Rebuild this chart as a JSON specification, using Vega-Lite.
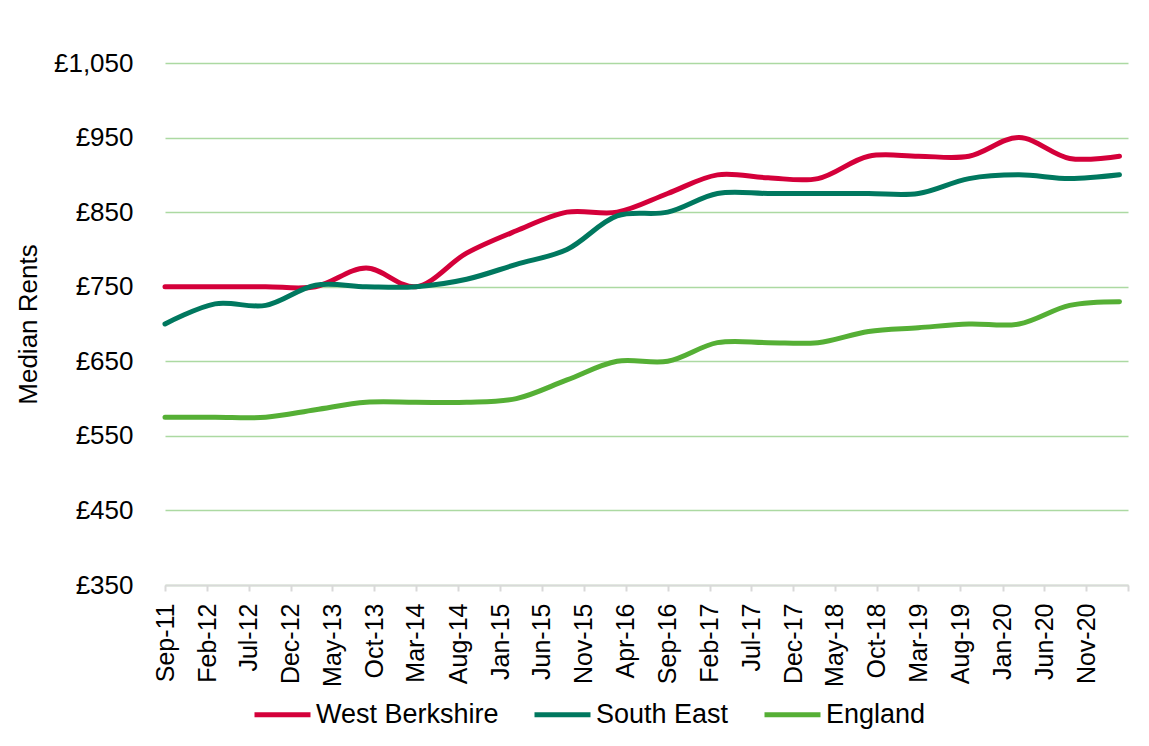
{
  "$schema": "https://vega.github.io/schema/vega-lite/v6.json",
  "width": 963,
  "height": 522,
  "autosize": {"type": "none"},
  "padding": {"left": 165, "top": 63, "right": 21, "bottom": 161},
  "background": "white",
  "config": {"font": "Liberation Sans", "view": {"stroke": null}},
  "datasets": {
    "rents": [
      {"date": "2011-09-01", "area": "West Berkshire", "rent": 750},
      {"date": "2012-03-01", "area": "West Berkshire", "rent": 750},
      {"date": "2012-09-01", "area": "West Berkshire", "rent": 750},
      {"date": "2013-03-01", "area": "West Berkshire", "rent": 750},
      {"date": "2013-09-01", "area": "West Berkshire", "rent": 775},
      {"date": "2014-03-01", "area": "West Berkshire", "rent": 750},
      {"date": "2014-09-01", "area": "West Berkshire", "rent": 795},
      {"date": "2015-03-01", "area": "West Berkshire", "rent": 825},
      {"date": "2015-09-01", "area": "West Berkshire", "rent": 850},
      {"date": "2016-03-01", "area": "West Berkshire", "rent": 850},
      {"date": "2016-09-01", "area": "West Berkshire", "rent": 875},
      {"date": "2017-03-01", "area": "West Berkshire", "rent": 900},
      {"date": "2017-09-01", "area": "West Berkshire", "rent": 896},
      {"date": "2018-03-01", "area": "West Berkshire", "rent": 895},
      {"date": "2018-09-01", "area": "West Berkshire", "rent": 925},
      {"date": "2019-03-01", "area": "West Berkshire", "rent": 925},
      {"date": "2019-09-01", "area": "West Berkshire", "rent": 925},
      {"date": "2020-03-01", "area": "West Berkshire", "rent": 950},
      {"date": "2020-09-01", "area": "West Berkshire", "rent": 922},
      {"date": "2021-03-01", "area": "West Berkshire", "rent": 925},
      {"date": "2011-09-01", "area": "South East", "rent": 700},
      {"date": "2012-03-01", "area": "South East", "rent": 727},
      {"date": "2012-09-01", "area": "South East", "rent": 725},
      {"date": "2013-03-01", "area": "South East", "rent": 752},
      {"date": "2013-09-01", "area": "South East", "rent": 750},
      {"date": "2014-03-01", "area": "South East", "rent": 750},
      {"date": "2014-09-01", "area": "South East", "rent": 760},
      {"date": "2015-03-01", "area": "South East", "rent": 780},
      {"date": "2015-09-01", "area": "South East", "rent": 800},
      {"date": "2016-03-01", "area": "South East", "rent": 845},
      {"date": "2016-09-01", "area": "South East", "rent": 850},
      {"date": "2017-03-01", "area": "South East", "rent": 875},
      {"date": "2017-09-01", "area": "South East", "rent": 875},
      {"date": "2018-03-01", "area": "South East", "rent": 875},
      {"date": "2018-09-01", "area": "South East", "rent": 875},
      {"date": "2019-03-01", "area": "South East", "rent": 875},
      {"date": "2019-09-01", "area": "South East", "rent": 895},
      {"date": "2020-03-01", "area": "South East", "rent": 900},
      {"date": "2020-09-01", "area": "South East", "rent": 895},
      {"date": "2021-03-01", "area": "South East", "rent": 900},
      {"date": "2011-09-01", "area": "England", "rent": 575},
      {"date": "2012-03-01", "area": "England", "rent": 575},
      {"date": "2012-09-01", "area": "England", "rent": 575},
      {"date": "2013-03-01", "area": "England", "rent": 585},
      {"date": "2013-09-01", "area": "England", "rent": 595},
      {"date": "2014-03-01", "area": "England", "rent": 595},
      {"date": "2014-09-01", "area": "England", "rent": 595},
      {"date": "2015-03-01", "area": "England", "rent": 600},
      {"date": "2015-09-01", "area": "England", "rent": 625},
      {"date": "2016-03-01", "area": "England", "rent": 650},
      {"date": "2016-09-01", "area": "England", "rent": 650},
      {"date": "2017-03-01", "area": "England", "rent": 675},
      {"date": "2017-09-01", "area": "England", "rent": 675},
      {"date": "2018-03-01", "area": "England", "rent": 675},
      {"date": "2018-09-01", "area": "England", "rent": 690},
      {"date": "2019-03-01", "area": "England", "rent": 695},
      {"date": "2019-09-01", "area": "England", "rent": 700},
      {"date": "2020-03-01", "area": "England", "rent": 700},
      {"date": "2020-09-01", "area": "England", "rent": 725},
      {"date": "2021-03-01", "area": "England", "rent": 730}
    ]
  },
  "data": {"name": "rents"},
  "mark": {"type": "line", "interpolate": "catmull-rom", "strokeWidth": 5, "strokeCap": "round", "strokeJoin": "round"},
  "encoding": {
    "x": {
      "field": "date",
      "type": "temporal",
      "scale": {
        "type": "utc",
        "domain": [
          {"year": 2011, "month": 9, "date": 1, "utc": true},
          {"year": 2021, "month": 4, "date": 1, "utc": true}
        ]
      },
      "axis": {
        "title": null,
        "values": [
          {"year": 2011, "month": 9, "date": 1, "utc": true},
          {"year": 2012, "month": 2, "date": 1, "utc": true},
          {"year": 2012, "month": 7, "date": 1, "utc": true},
          {"year": 2012, "month": 12, "date": 1, "utc": true},
          {"year": 2013, "month": 5, "date": 1, "utc": true},
          {"year": 2013, "month": 10, "date": 1, "utc": true},
          {"year": 2014, "month": 3, "date": 1, "utc": true},
          {"year": 2014, "month": 8, "date": 1, "utc": true},
          {"year": 2015, "month": 1, "date": 1, "utc": true},
          {"year": 2015, "month": 6, "date": 1, "utc": true},
          {"year": 2015, "month": 11, "date": 1, "utc": true},
          {"year": 2016, "month": 4, "date": 1, "utc": true},
          {"year": 2016, "month": 9, "date": 1, "utc": true},
          {"year": 2017, "month": 2, "date": 1, "utc": true},
          {"year": 2017, "month": 7, "date": 1, "utc": true},
          {"year": 2017, "month": 12, "date": 1, "utc": true},
          {"year": 2018, "month": 5, "date": 1, "utc": true},
          {"year": 2018, "month": 10, "date": 1, "utc": true},
          {"year": 2019, "month": 3, "date": 1, "utc": true},
          {"year": 2019, "month": 8, "date": 1, "utc": true},
          {"year": 2020, "month": 1, "date": 1, "utc": true},
          {"year": 2020, "month": 6, "date": 1, "utc": true},
          {"year": 2020, "month": 11, "date": 1, "utc": true},
          {"year": 2021, "month": 4, "date": 1, "utc": true}
        ],
        "format": "%b-%y",
        "labelExpr": "datum.value >= utc(2021, 2, 15) ? '' : datum.label",
        "labelAngle": -90,
        "labelFontSize": 25,
        "labelColor": "#000000",
        "labelPadding": 12,
        "labelOverlap": false,
        "labelBound": false,
        "labelFlush": false,
        "tickColor": "#d9d9d9",
        "tickWidth": 2,
        "tickSize": 6,
        "domainColor": "#d9d9d9",
        "domainWidth": 2,
        "grid": false
      }
    },
    "y": {
      "field": "rent",
      "type": "quantitative",
      "scale": {"domain": [350, 1050], "nice": false, "zero": false},
      "axis": {
        "title": "Median Rents",
        "values": [350, 450, 550, 650, 750, 850, 950, 1050],
        "labelExpr": "'£' + format(datum.value, ',')",
        "labelFontSize": 26,
        "labelColor": "#000000",
        "labelPadding": 32,
        "ticks": false,
        "domain": false,
        "gridColor": "#acd9a2",
        "gridWidth": 1.5,
        "titleFontSize": 26,
        "titleFontWeight": "normal",
        "titleColor": "#000000",
        "titlePadding": 12
      }
    },
    "color": {
      "field": "area",
      "type": "nominal",
      "scale": {
        "domain": ["West Berkshire", "South East", "England"],
        "range": ["#D4003A", "#00785F", "#55AF35"]
      },
      "legend": {
        "title": null,
        "orient": "none",
        "legendX": 87,
        "legendY": 621,
        "direction": "horizontal",
        "symbolType": "stroke",
        "symbolSize": 3136,
        "symbolStrokeWidth": 5,
        "labelFontSize": 27,
        "labelColor": "#000000",
        "labelLimit": 0,
        "labelOffset": 3,
        "columnPadding": 25
      }
    }
  }
}
